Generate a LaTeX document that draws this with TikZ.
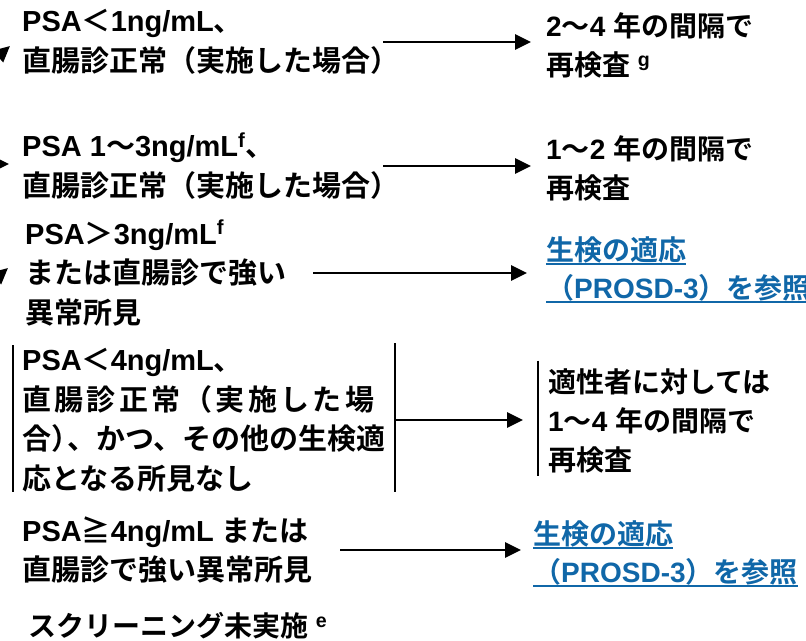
\documentclass[tikz,border=0pt]{standalone}
\usepackage{fontspec}
\setmainfont{Liberation Sans}
\newfontfamily\cjk{Noto Sans CJK JP}[BoldFont={Noto Sans CJK JP Bold}]
\usetikzlibrary{arrows.meta,calc}
\newcommand\J[1]{{\cjk\bfseries #1}}
\definecolor{linkblue}{HTML}{1067A8}
\begin{document}
\begin{tikzpicture}[x=1pt,y=-1pt,
  txt/.style={anchor=west,align=left,inner sep=0pt,font=\fontsize{29}{39.5}\selectfont\bfseries},
  rtxt/.style={anchor=west,align=left,inner sep=0pt,font=\fontsize{28}{39}\selectfont\bfseries},
  link/.style={anchor=base west,inner sep=0pt,text=linkblue,font=\fontsize{28}{39}\selectfont\bfseries},
  arr/.style={line width=2.8pt,-{Triangle[length=16pt,width=15pt]}},
  bar/.style={line width=2pt},
  uline/.style={draw=linkblue,line width=2.5pt}]
\useasboundingbox (0,0) rectangle (806,640);
\begin{scope}
\clip (0,0) rectangle (806,640);
% left column
\node[txt] (A) at (22,42) {PSA\J{＜}1ng/mL\J{、}\\\J{直腸診正常（実施した場合）}};
\node[txt] (B) at (22,166) {PSA 1\J{～}3ng/mL\textsuperscript{f}\J{、}\\\J{直腸診正常（実施した場合）}};
\node[txt] (C) at (25,273) {PSA\J{＞}3ng/mL\textsuperscript{f}\\\J{または直腸診で強い}\\\J{異常所見}};
\node[txt] (D) at (22,420) {PSA\J{＜}4ng/mL\J{、}\\\J{\makebox[352pt][s]{直\hfill 腸\hfill 診\hfill 正\hfill 常\hfill （\hfill 実\hfill 施\hfill し\hfill た\hfill 場}}\\\J{合）\kern-0.45em、かつ、その他の生検適}\\\J{応となる所見なし}};
\node[txt] (E) at (22,550) {PSA\J{≧}4ng/mL \J{または}\\\J{直腸診で強い異常所見}};
\node[rtxt] (F) at (28,626) {\J{スクリーニング未実施} \textsuperscript{e}};
% right column
\node[rtxt] (RA) at (546,45) {2\J{～}4 \J{年の間隔で}\\\J{再検査} \textsuperscript{g}};
\node[rtxt] (RB) at (546,168) {1\J{～}2 \J{年の間隔で}\\\J{再検査}};
\node[link] (LC1) at (546,260) {\J{生検の適応}};
\node[link] (LC2) at (546,298) {\J{（}PROSD-3\J{）を参照}};
\node[rtxt] (RD) at (548,421) {\J{適性者に対しては}\\1\J{～}4 \J{年の間隔で}\\\J{再検査}};
\node[link] (LE1) at (533,544) {\J{生検の適応}};
\node[link] (LE2) at (533,582) {\J{（}PROSD-3\J{）を参照}};
% underlines
\draw[uline] ($(LC1.base west)+(0,4)$) -- ($(LC1.base east)+(0,4)$);
\draw[uline] ($(LC2.base west)+(0,4)$) -- ($(LC2.base east)+(0,4)$);
\draw[uline] ($(LE1.base west)+(0,4)$) -- ($(LE1.base east)+(0,4)$);
\draw[uline] ($(LE2.base west)+(0,4)$) -- ($(LE2.base east)+(0,4)$);
% bars
\draw[bar] ($(D.north west)+(-9,-3)$) -- ($(D.south west)+(-9,0)$);
\draw[bar] ($(D.north east)+(10,-5)$) -- ($(D.south east)+(10,0)$);
\draw[bar] ($(RD.north west)+(-10,-8)$) -- ($(RD.south west)+(-10,3)$);
% arrows
\draw[arr] ($(A.east)+(-16,0)$) -- ($(A.east -| RA.west)+(-15,0)$);
\draw[arr] ($(B.east)+(-16,0)$) -- ($(B.east -| RB.west)+(-15,0)$);
\draw[arr] ($(C.east)+(27,0)$) -- ($(C.east -| LC1.west)+(-19,0)$);
\draw[arr] ($(D.east)+(10,0)$) -- ($(D.east -| RD.west)+(-25,0)$);
\draw[arr] ($(E.east)+(28,0)$) -- ($(E.east -| LE1.west)+(-12,0)$);
% partial incoming arrows at the left edge
\coordinate (rootA) at (-40,90);
\coordinate (rootB) at (-60,164);
\coordinate (rootC) at (-40,310);
\draw[arr] (rootA) -- ($(A.west)+(-12,4)$);
\draw[arr] (rootB) -- ($(B.west |- 0,164)+(-13,0)$);
\draw[arr] (rootC) -- ($(C.west)+(-17,-5)$);
\end{scope}
\end{tikzpicture}
\end{document}
